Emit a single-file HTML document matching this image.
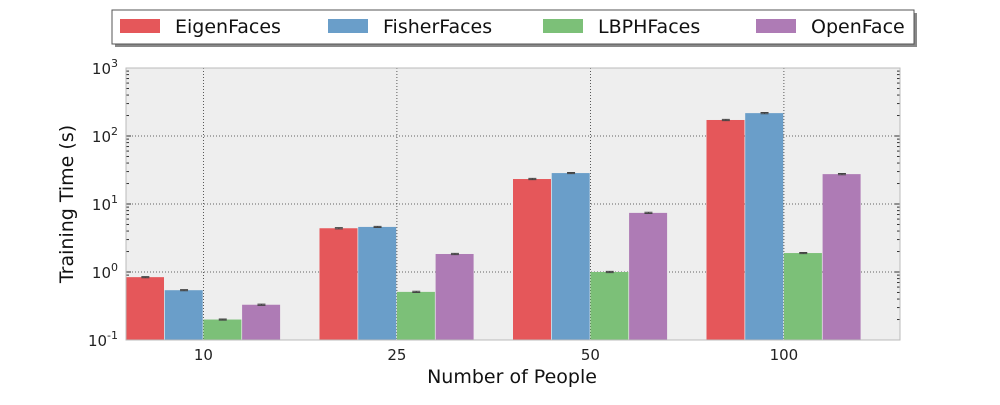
<!DOCTYPE html>
<html><head><meta charset="utf-8"><style>
body{margin:0;background:#fff;}
svg text{font-family:"DejaVu Sans","Liberation Sans",sans-serif;}
</style></head><body>
<svg id="chart" width="1000" height="400" xmlns="http://www.w3.org/2000/svg"></svg>
<script>
const categories=["10","25","50","100"];
const seriesNames=["EigenFaces","FisherFaces","LBPHFaces","OpenFace"];
const eigen=[0.84,4.4,23.3,172];
const fisher=[0.54,4.6,28.5,217];
const lbph=[0.2,0.51,1.0,1.9];
const openface=[0.33,1.84,7.4,27.5];
const errs=[0.02,0.02,0.02,0.02];
const yTickExp=[-1,0,1,2,3];
const colors=["#e5575a","#6a9ec9","#7cc078","#ae7bb5"];
const series=[eigen,fisher,lbph,openface];
const NS="http://www.w3.org/2000/svg";
const svg=document.getElementById('chart');
const L=126,R=900,T=68,B=340;
const yMin=-1,yMax=3;
function y(v){return B-(Math.log10(v)-yMin)/(yMax-yMin)*(B-T);}
const groupW=193.5,barW=38.7;
function xc(i){return L+barW*2+i*groupW;}
function mk(tag,attrs,parent){const e=document.createElementNS(NS,tag);for(const k in attrs)e.setAttribute(k,attrs[k]);(parent||svg).appendChild(e);return e;}
const bg=mk('rect',{x:L,y:T,width:R-L,height:B-T,fill:'#eeeeee'});


// grid
yTickExp.forEach(e=>{const yy=y(Math.pow(10,e));
 const g=mk('line',{x1:L,x2:R,y1:yy,y2:yy,stroke:'#333',"stroke-width":0.8,"stroke-dasharray":"1,2"});
 
 
 const t=mk('text',{x:L-8,y:yy+6,"text-anchor":"end","font-size":15,fill:'#222'});
 
 
 t.innerHTML='10<tspan dy="-7" font-size="11">'+e+'</tspan>';
 mk('line',{x1:L,x2:L+5,y1:yy,y2:yy,stroke:'#333'});
 mk('line',{x1:R,x2:R-5,y1:yy,y2:yy,stroke:'#333'});
 for(let m=2;m<10&&e<3;m++){const ym=y(m*Math.pow(10,e));mk('line',{x1:L,x2:L+3,y1:ym,y2:ym,stroke:'#333'});mk('line',{x1:R,x2:R-3,y1:ym,y2:ym,stroke:'#333'});}
});
categories.forEach((c,i)=>{const xx=xc(i);
 const g=mk('line',{x1:xx,x2:xx,y1:T,y2:B,stroke:'#333',"stroke-width":0.8,"stroke-dasharray":"1,2"});
 
 
 const t=mk('text',{x:xx,y:B+20,"text-anchor":"middle","font-size":15,fill:'#222'});
 
 
 t.textContent=c;
});
series.forEach((s,si)=>{s.forEach((v,i)=>{
 const x0=xc(i)-2*barW+si*barW;
 const r=mk('rect',{x:x0,y:y(v),width:barW-0.7,height:B-y(v),fill:colors[si]});
 
 
 const cx=x0+barW/2, hi=y(v*(1+errs[i])), lo=y(v*(1-errs[i]));
 const eb=mk('path',{d:`M${cx},${hi}V${lo}M${cx-4},${hi}H${cx+4}M${cx-4},${lo}H${cx+4}`,stroke:'#444',"stroke-width":1,fill:'none'});
 
 
});});
const fr=mk('rect',{x:L,y:T,width:R-L,height:B-T,fill:'none',stroke:'#bbb'});


const yt=mk('text',{x:73,y:(T+B)/2,"text-anchor":"middle","font-size":19,fill:'#111',transform:`rotate(-90 73 ${(T+B)/2})`});


yt.textContent='Training Time (s)';
const xt=mk('text',{x:(L+R)/2+-1,y:383,"text-anchor":"middle","font-size":19,fill:'#111'});


xt.textContent='Number of People';
// legend
const lg=mk('g',{});


mk('rect',{x:115,y:13,width:802,height:34,fill:'#888'},lg);
mk('rect',{x:112,y:10,width:802,height:34,fill:'#fff',stroke:'#555'},lg);
const lx=[120,328,543,756];
seriesNames.forEach((n,i)=>{
 const e=mk('g',{},lg);
 
 
 mk('rect',{x:lx[i],y:19,width:40,height:14,fill:colors[i]},e);
 const t=mk('text',{x:lx[i]+55,y:33,"font-size":19,fill:'#111'},e);
 t.textContent=n;
});
</script>
</body></html>
